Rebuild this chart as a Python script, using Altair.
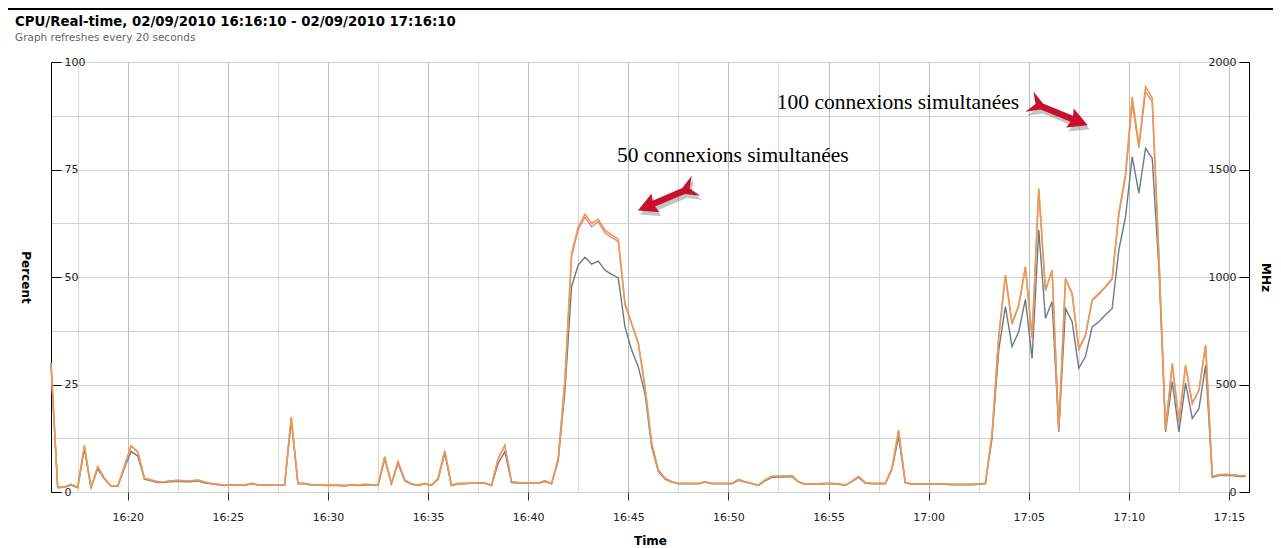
import altair as alt
import pandas as pd

# ---------------- data (one sample every 20 s) ----------------
START = "2010-09-02 16:16:10"
SAMPLE_SECONDS = 20

# CPU usage, percent (orange line)
usage_pct = [
    30, 1.1, 1.2, 1.8, 1.1, 10.8, 1.1, 5.9, 3.2, 1.4,
    1.4, 6.0, 10.8, 9.4, 3.2, 2.8, 2.4, 2.4, 2.6, 2.7,
    2.6, 2.6, 2.8, 2.3, 2.0, 1.8, 1.6, 1.7, 1.7, 1.6,
    2.0, 1.7, 1.7, 1.7, 1.7, 1.7, 17.4, 2.0, 2.0, 1.7,
    1.7, 1.6, 1.6, 1.6, 1.5, 1.7, 1.6, 1.8, 1.7, 1.6,
    8.2, 2.0, 7.1, 2.8, 1.9, 1.6, 2.0, 1.6, 3.2, 9.6,
    1.6, 2.0, 2.0, 2.1, 2.1, 2.1, 1.6, 7.8, 10.9, 2.4,
    2.2, 2.1, 2.1, 2.1, 2.6, 2.0, 7.8, 26.0, 55.5, 61.7,
    64.6, 62.5, 63.4, 60.9, 59.8, 58.8, 43.9, 39.2, 34.6, 24.5,
    11.3, 5.1, 3.2, 2.4, 2.0, 2.0, 2.0, 2.0, 2.4, 2.0,
    2.0, 2.0, 2.0, 2.9, 2.4, 2.0, 1.6, 2.8, 3.6, 3.7,
    3.7, 3.8, 2.4, 1.9, 1.9, 1.9, 2.0, 2.0, 1.9, 1.6,
    2.5, 3.6, 2.2, 2.0, 2.0, 2.0, 5.5, 14.4, 2.2, 1.9,
    1.9, 1.9, 1.9, 1.9, 1.9, 1.8, 1.8, 1.8, 1.8, 1.9,
    2.0, 13.6, 36.1, 50.5, 39.2, 43.5, 52.4, 36.0, 70.6, 47.0,
    51.6, 14.4, 49.7, 46.2, 33.4, 36.5, 44.7, 46.2, 47.8, 49.7,
    65.0, 74.0, 91.9, 80.7, 94.3, 91.6, 55.0, 14.4, 29.9, 16.4,
    29.5, 20.6, 23.7, 34.2, 3.6, 4.0, 4.1, 4.0, 3.8, 3.8,
]

# CPU usage, MHz (pink line, right axis)
usage_mhz = [
    600, 22, 24, 36, 22, 216, 22, 118, 64, 28,
    28, 120, 214, 186, 64, 56, 48, 48, 52, 54,
    52, 52, 56, 46, 40, 36, 32, 34, 34, 32,
    40, 34, 34, 34, 34, 34, 346, 40, 40, 34,
    34, 32, 32, 32, 30, 34, 32, 36, 34, 32,
    162, 40, 140, 56, 38, 32, 40, 32, 64, 190,
    32, 40, 40, 42, 42, 42, 32, 154, 216, 48,
    44, 42, 42, 42, 52, 40, 154, 516, 1096, 1220,
    1278, 1234, 1258, 1206, 1184, 1164, 872, 780, 690, 488,
    224, 102, 64, 48, 40, 40, 40, 40, 48, 40,
    40, 40, 40, 58, 48, 40, 32, 56, 72, 74,
    74, 76, 48, 38, 38, 38, 40, 40, 38, 32,
    50, 72, 44, 40, 40, 40, 110, 286, 44, 38,
    38, 38, 38, 38, 38, 36, 36, 36, 36, 38,
    40, 270, 718, 1006, 780, 866, 1044, 716, 1406, 936,
    1028, 286, 990, 920, 664, 726, 890, 920, 952, 990,
    1290, 1466, 1810, 1600, 1862, 1816, 1096, 286, 596, 326,
    588, 410, 472, 682, 72, 80, 82, 80, 76, 76,
]

# second percent series (slate grey line)
other_pct = [
    29.5, 1.0, 1.1, 1.6, 1.0, 10.0, 1.0, 5.4, 3.0, 1.3,
    1.3, 5.5, 9.4, 8.4, 3.0, 2.6, 2.2, 2.2, 2.4, 2.5,
    2.4, 2.4, 2.6, 2.1, 1.9, 1.7, 1.5, 1.6, 1.6, 1.5,
    1.9, 1.6, 1.6, 1.6, 1.6, 1.6, 16.5, 1.9, 1.9, 1.6,
    1.6, 1.5, 1.5, 1.5, 1.4, 1.6, 1.5, 1.7, 1.6, 1.5,
    7.7, 1.9, 6.6, 2.6, 1.8, 1.5, 1.9, 1.5, 3.0, 9.0,
    1.5, 1.9, 1.9, 2.0, 2.0, 2.0, 1.5, 6.7, 9.4, 2.2,
    2.1, 2.0, 2.0, 2.0, 2.4, 1.9, 7.3, 23.5, 47.8, 52.8,
    54.6, 53.0, 53.7, 51.6, 50.6, 49.8, 38.4, 33.0, 29.1, 22.9,
    10.5, 4.8, 3.0, 2.3, 1.9, 1.9, 1.9, 1.9, 2.3, 1.9,
    1.9, 1.9, 1.9, 2.7, 2.3, 1.9, 1.5, 2.6, 3.4, 3.5,
    3.5, 3.6, 2.3, 1.8, 1.8, 1.8, 1.9, 1.9, 1.8, 1.5,
    2.4, 3.4, 2.1, 1.9, 1.9, 1.9, 5.2, 12.9, 2.1, 1.8,
    1.8, 1.8, 1.8, 1.8, 1.8, 1.7, 1.7, 1.7, 1.7, 1.8,
    1.9, 12.5, 33.0, 43.1, 33.8, 37.3, 44.8, 31.0, 60.9, 40.4,
    44.3, 14.0, 42.7, 39.6, 28.8, 31.5, 38.4, 39.6, 41.2, 42.7,
    56.3, 64.0, 78.0, 69.5, 79.9, 77.6, 52.0, 14.0, 25.7, 14.0,
    25.3, 17.1, 19.4, 29.5, 3.4, 3.8, 3.9, 3.8, 3.6, 3.6,
]

x_domain = ["16:16:10", "17:16:00"]
x_major_ticks = ["16:20", "16:25", "16:30", "16:35", "16:40", "16:45",
                 "16:50", "16:55", "17:00", "17:05", "17:10", "17:15"]
x_minor_grid = ["16:17:30", "16:22:30", "16:27:30", "16:32:30", "16:37:30", "16:42:30",
                "16:47:30", "16:52:30", "16:57:30", "17:02:30", "17:07:30", "17:12:30"]
pct_ticks = [0, 12.5, 25, 37.5, 50, 62.5, 75, 87.5, 100]
mhz_ticks = [0, 500, 1000, 1500, 2000]

annotations = ["50 connexions simultanées", "100 connexions simultanées"]
annotation_time = ["16:44:26", "16:52:25"]
annotation_pct = [76.7, 89.1]

arrow_time = ["16:46:57", "17:06:28"]
arrow_pct = [68.4, 88.1]
arrow_angle = [157, 22]

TITLE = "CPU/Real-time, 02/09/2010 16:16:10 - 02/09/2010 17:16:10"
SUBTITLE = "Graph refreshes every 20 seconds"

# ---------------- helpers ----------------
def dt(hms):
    parts = [int(p) for p in hms.split(":")]
    while len(parts) < 3:
        parts.append(0)
    return alt.DateTime(year=2010, month=9, date=2, hours=parts[0], minutes=parts[1], seconds=parts[2])

def ts(hms):
    return pd.Timestamp("2010-09-02 " + hms)

times = pd.date_range(START, periods=len(usage_pct), freq=f"{SAMPLE_SECONDS}s")
df = pd.DataFrame({"time": times, "usage_pct": usage_pct, "usage_mhz": usage_mhz, "other_pct": other_pct})

ann_df = pd.DataFrame({"time": [ts(t) for t in annotation_time], "pct": annotation_pct, "label": annotations})
arrow_df = pd.DataFrame({"time": [ts(t) for t in arrow_time], "pct": arrow_pct, "angle": arrow_angle})

W, H = 1198, 430
FONT = "DejaVu Sans"
LABEL_SIZE = 11

xs = alt.Scale(domain=[dt(x_domain[0]), dt(x_domain[1])])
pct_scale = alt.Scale(domain=[0, 100], nice=False, zero=True)
mhz_scale = alt.Scale(domain=[0, 2000], nice=False, zero=True)

x_major = alt.X(
    "time:T", scale=xs, title="Time",
    axis=alt.Axis(values=[dt(t) for t in x_major_ticks], format="%H:%M",
                  grid=True, gridColor="#b9b9b9", gridWidth=1,
                  domain=False, ticks=True, tickColor="#333333", tickSize=8, tickWidth=1,
                  labelFont=FONT, labelFontSize=LABEL_SIZE, labelColor="#222222", labelPadding=11,
                  labelFlush=False, labelOverlap=False,
                  titleFont=FONT, titleFontSize=12, titleFontWeight="bold", titleColor="#000000",
                  titlePadding=13),
)
x_minor = alt.X(
    "time:T", scale=xs,
    axis=alt.Axis(values=[dt(t) for t in x_minor_grid], grid=True, gridColor="#dadada", gridWidth=1,
                  labels=False, ticks=False, domain=False, title=None),
)
x_none = alt.X("time:T", scale=xs, axis=None)

y_pct = alt.Y(
    "other_pct:Q", scale=pct_scale, title="Percent",
    axis=alt.Axis(orient="right", offset=-W, values=pct_ticks,
                  labelExpr="datum.value % 25 === 0 ? datum.label : ''",
                  labelOverlap=False, labelFlush=False,
                  grid=True, gridColor="#d2d2d2", gridWidth=1,
                  domain=True, domainColor="#000000", domainWidth=1,
                  ticks=True, tickSize=10, tickWidth=1,
                  tickColor={"condition": {"test": "datum.value % 25 === 0", "value": "#000000"},
                             "value": "#d2d2d2"},
                  labelAlign="left", labelBaseline="middle", labelPadding=3,
                  labelFont=FONT, labelFontSize=LABEL_SIZE, labelColor="#222222",
                  titleFont=FONT, titleFontSize=12, titleFontWeight="bold", titleColor="#000000",
                  titleAngle=90, titleX=-26, titleY=H / 2, titleAlign="center", titleBaseline="middle"),
)
y_mhz = alt.Y(
    "usage_mhz:Q", scale=mhz_scale, title="MHz",
    axis=alt.Axis(orient="left", offset=-W, values=mhz_ticks, format="d", grid=False,
                  labelOverlap=False, labelFlush=False,
                  domain=True, domainColor="#000000", domainWidth=1,
                  ticks=True, tickSize=10, tickWidth=1, tickColor="#000000",
                  labelAlign="right", labelBaseline="middle", labelPadding=3,
                  labelFont=FONT, labelFontSize=LABEL_SIZE, labelColor="#222222",
                  titleFont=FONT, titleFontSize=12, titleFontWeight="bold", titleColor="#000000",
                  titleAngle=90, titleX=16, titleY=H / 2, titleAlign="center", titleBaseline="middle"),
)

base = alt.Chart(df)

grey_line = base.mark_line(color="#6b7a8b", strokeWidth=1.4).encode(x=x_major, y=y_pct)
pink_line = base.mark_line(color="#de8a8c", strokeWidth=1.4).encode(x=x_none, y=y_mhz)
orange_line = base.mark_line(color="#ec9a52", strokeWidth=1.6).encode(
    x=x_minor, y=alt.Y("usage_pct:Q", scale=pct_scale, axis=None))

text = alt.Chart(ann_df).mark_text(
    align="left", baseline="alphabetic", font="Liberation Serif", fontSize=21.5, color="#000000"
).encode(x=x_none, y=alt.Y("pct:Q", scale=pct_scale, axis=None), text="label:N")

ARROW = ("M1,0 L0.4,-0.32 L0.46,-0.1 L-0.55,-0.1 L-0.97,-0.34 L-0.76,0 "
         "L-0.97,0.34 L-0.55,0.1 L0.46,0.1 L0.4,0.32 Z")

arrow_enc = dict(x=x_none, y=alt.Y("pct:Q", scale=pct_scale, axis=None),
                 angle=alt.Angle("angle:Q", scale=None))
arrow_shadow = alt.Chart(arrow_df).mark_point(
    shape=ARROW, filled=True, color="#3a3a3a", opacity=0.3, size=64 * 64,
    strokeWidth=0, xOffset=2, yOffset=4
).encode(**arrow_enc)
arrow = alt.Chart(arrow_df).mark_point(
    shape=ARROW, filled=True, color="#c8102e", opacity=1, size=64 * 64, strokeWidth=0
).encode(**arrow_enc)

frame = alt.Chart(pd.DataFrame({"frame": [0]})).mark_rule(color="#000000", strokeWidth=2).encode(
    x=alt.value(-43), x2=alt.value(W + 24), y=alt.value(-53))

chart = alt.layer(
    grey_line, pink_line, orange_line, text, arrow_shadow, arrow, frame
).resolve_scale(y="independent").resolve_axis(x="independent", y="independent").properties(
    width=W, height=H,
    title=alt.TitleParams(text=TITLE, subtitle=SUBTITLE, anchor="start", frame="group",
                          dx=-36, dy=36, offset=0, font=FONT, fontSize=13.3, fontWeight="bold",
                          color="#000000", subtitleFont=FONT, subtitleFontSize=10.5,
                          subtitleColor="#666666", subtitlePadding=5),
    autosize=alt.AutoSizeParams(type="none"),
    padding={"left": 43, "top": 54, "right": 24, "bottom": 56},
).configure_view(stroke=None).configure(background="#ffffff")

chart.save("out.html", embed_options={"renderer": "svg", "actions": False})
